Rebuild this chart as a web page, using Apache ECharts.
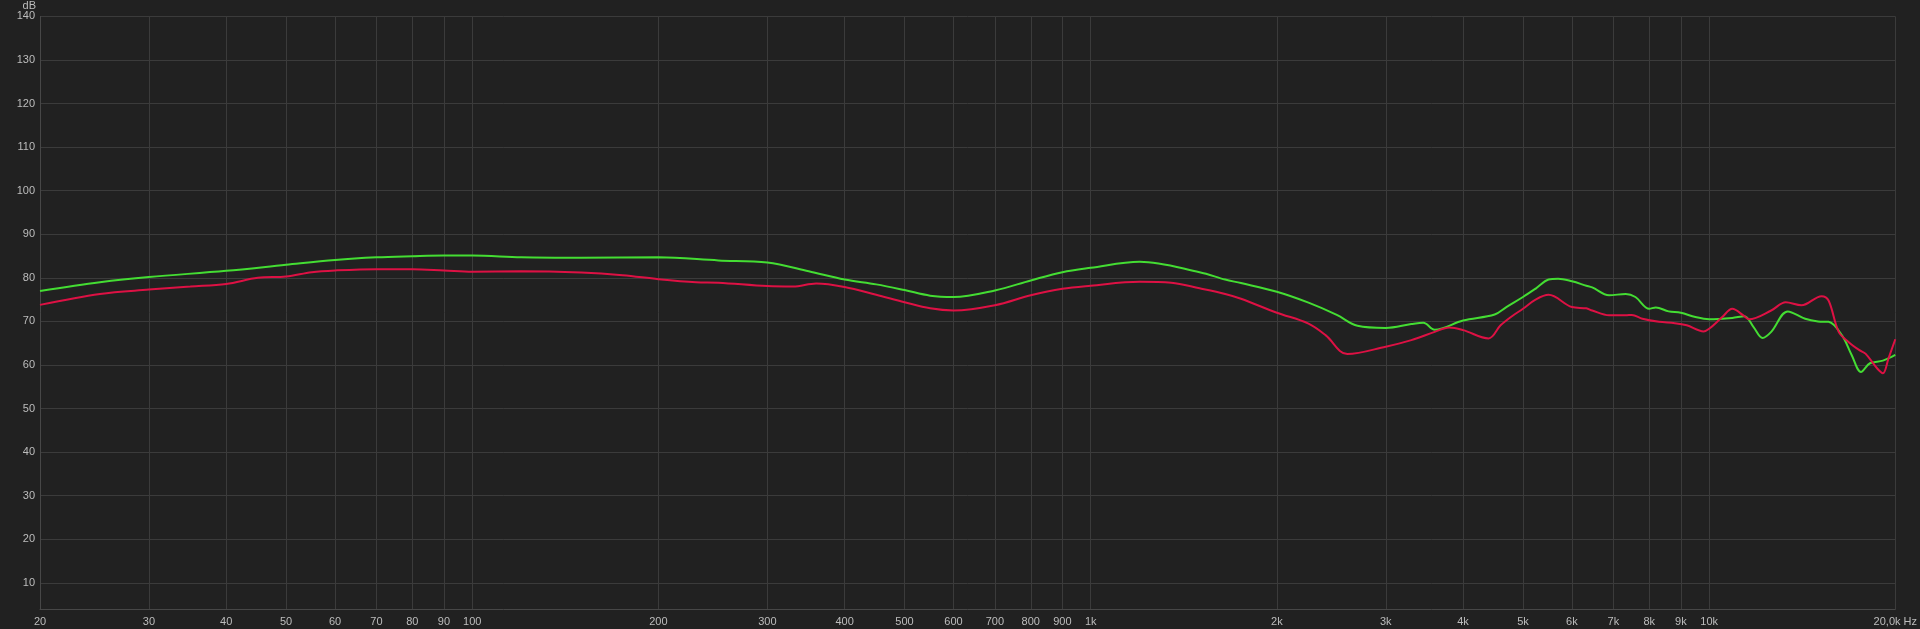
<!DOCTYPE html>
<html><head><meta charset="utf-8">
<script src="https://cdn.jsdelivr.net/npm/echarts@6/dist/echarts.min.js"></script>
<style>html,body{margin:0;padding:0;background:#212121;} #c{width:1920px;height:629px;}</style>
</head><body><div id="c"></div>
<script>
const tickFreqs = [20,30,40,50,60,70,80,90,100,200,300,400,500,600,700,800,900,1000,2000,3000,4000,5000,6000,7000,8000,9000,10000,20000];
const tickLabels = ['20','30','40','50','60','70','80','90','100','200','300','400','500','600','700','800','900','1k','2k','3k','4k','5k','6k','7k','8k','9k','10k','20,0k Hz'];
const dbTicks = [10,20,30,40,50,60,70,80,90,100,110,120,130,140];

const greenFreq = [20,25,30,40,50,60,70,80,90,100,120,150,200,250,300,350,400,450,500,550,600,700,800,900,1000,1200,1500,1650,1750,2000,2250,2500,2700,3000,3300,3450,3600,4000,4500,4700,5000,5250,5500,5700,6000,6330,6470,6890,7330,7600,8000,8200,8600,9000,9500,10000,10900,11400,11800,12200,12600,13400,14300,15000,15600,16400,17000,17600,18200,19100,20000];
const greenDb   = [77.0,79.0,80.2,81.6,83.0,84.1,84.7,84.95,85.1,85.1,84.7,84.6,84.7,84.0,83.5,81.5,79.6,78.5,77.2,75.9,75.6,77.1,79.4,81.3,82.3,83.7,81.3,79.6,78.8,76.8,74.3,71.5,69.0,68.5,69.4,69.7,68.1,70.2,71.6,73.3,75.6,77.6,79.6,79.8,79.2,78.2,77.8,76.0,76.3,75.6,72.9,73.2,72.3,72.0,71.0,70.5,70.8,71.2,68.7,66.2,67.6,72.3,70.6,70.0,69.9,66.8,62.3,58.4,60.4,61.0,62.3];

const redFreq = [20,25,30,35,40,45,50,55,60,70,80,90,100,120,150,175,200,230,250,300,330,360,400,450,500,550,600,700,800,900,1000,1200,1350,1500,1650,1750,2000,2250,2400,2600,3000,3300,3600,3800,4000,4400,4600,4800,5000,5240,5500,6000,6330,6470,6890,7330,7500,7800,8300,8800,9200,9800,10000,10500,10900,11400,11600,12600,13300,14100,15200,15600,16200,16800,17500,17900,18700,19100,19500,20000];
const redDb   = [73.8,76.3,77.3,78.0,78.6,80.0,80.3,81.3,81.7,82.0,82.0,81.7,81.4,81.5,81.2,80.6,79.7,79.0,78.9,78.1,78.0,78.7,77.9,76.1,74.4,73.0,72.5,73.7,76.0,77.5,78.2,79.1,78.9,77.6,76.3,75.2,72.0,69.5,66.8,62.5,64.2,65.7,67.6,68.6,68.0,66.1,69.1,71.2,72.9,75.0,76.1,73.3,73.0,72.5,71.4,71.4,71.5,70.6,69.9,69.6,69.1,67.7,68.3,71.0,72.9,71.2,70.5,72.5,74.4,73.7,75.8,74.8,67.6,65.3,63.4,62.6,59.2,58.1,61.5,65.9];

const lg = v => Math.log10(v);
const tickLogs = tickFreqs.map(lg);
const labelFor = v => {
  let best = 0, bd = Infinity;
  tickLogs.forEach((t, i) => { const d = Math.abs(t - v); if (d < bd) { bd = d; best = i; } });
  return tickLabels[best];
};
const toSeries = (fs, ds) => fs.map((f, i) => [lg(f), ds[i]]);

const txt = {color: '#bdbdbd', fontSize: 11, fontFamily: 'Liberation Sans, Arial, sans-serif'};
const chart = echarts.init(document.getElementById('c'));
chart.setOption({
  backgroundColor: '#212121',
  animation: false,
  grid: {left: 40, right: 20, top: 14, bottom: 20, containLabel: false},
  xAxis: {
    type: 'value', min: lg(20), max: lg(20000),
    axisLine: {show: true, lineStyle: {color: '#474747', width: 1}},
    axisTick: {show: false, customValues: tickLogs},
    axisLabel: Object.assign({customValues: tickLogs, margin: 7, formatter: v => labelFor(v), showMinLabel: true, showMaxLabel: true, hideOverlap: false}, txt),
    splitLine: {show: true, lineStyle: {color: '#3b3b3b', width: 1}}
  },
  yAxis: {
    type: 'value', min: 4, max: 140,
    name: 'dB', nameLocation: 'end', nameGap: 9,
    nameTextStyle: Object.assign({align: 'right', verticalAlign: 'middle', padding: [0, 4, 0, 0]}, txt),
    axisLine: {show: true, lineStyle: {color: '#474747', width: 1}},
    axisTick: {show: false, customValues: dbTicks},
    axisLabel: Object.assign({customValues: dbTicks, margin: 5}, txt),
    splitLine: {show: true, lineStyle: {color: '#3b3b3b', width: 1}}
  },
  series: [
    {type: 'line', data: toSeries(greenFreq, greenDb), smooth: 0.35, showSymbol: false, lineStyle: {color: '#44dd33', width: 2}},
    {type: 'line', data: toSeries(redFreq, redDb), smooth: 0.35, showSymbol: false, lineStyle: {color: '#dd1144', width: 2}}
  ]
});
</script>
</body></html>
